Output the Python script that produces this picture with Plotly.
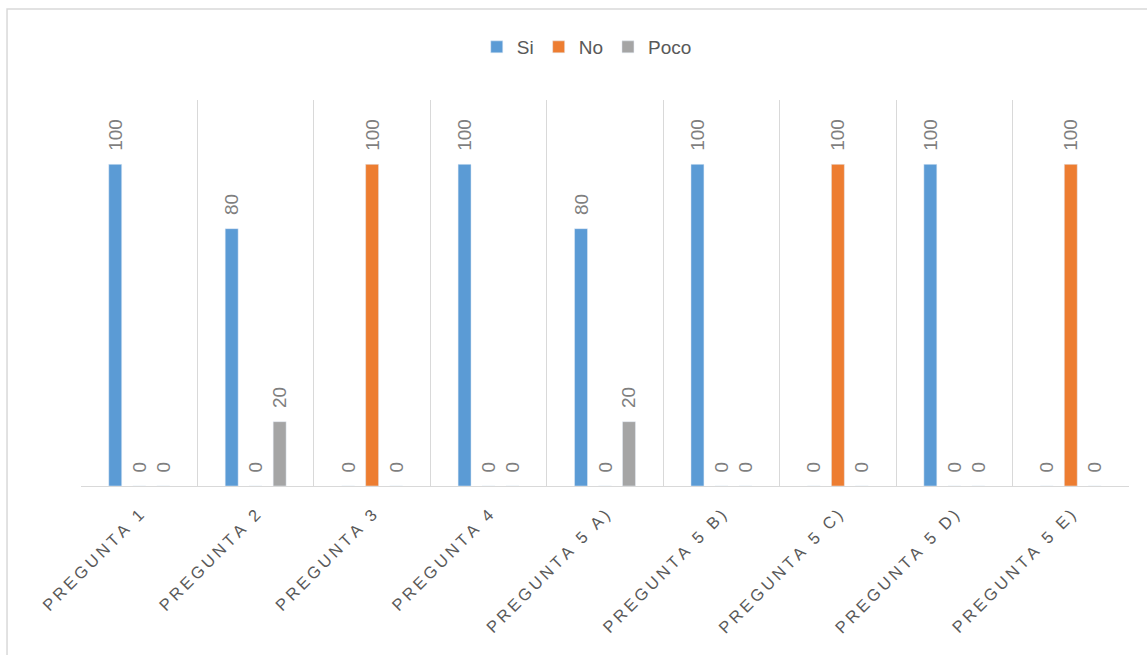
import plotly.graph_objects as go

categories = ["PREGUNTA 1", "PREGUNTA 2", "PREGUNTA 3", "PREGUNTA 4", "PREGUNTA 5 A)",
              "PREGUNTA 5 B)", "PREGUNTA 5 C)", "PREGUNTA 5 D)", "PREGUNTA 5 E)"]
si = [100, 80, 0, 100, 80, 100, 0, 100, 0]
no = [0, 0, 100, 0, 0, 0, 100, 0, 100]
poco = [0, 20, 0, 0, 20, 0, 0, 0, 0]

series = [("Si", si, "#5B9BD5"), ("No", no, "#ED7D31"), ("Poco", poco, "#A5A5A5")]

# letter-spaced tick labels (Excel style)
tick_text = ["\u2009".join(list(c)) for c in categories]

fig = go.Figure()
for name, vals, color in series:
    fig.add_trace(go.Bar(
        x=categories, y=vals, name=name, marker_color=color,
        texttemplate="\u00a0\u00a0%{y}", textposition="outside", textangle=-90,
        constraintext="none",
        textfont=dict(size=19, color="#7F7F7F", family="Liberation Sans"),
        cliponaxis=False,
    ))

W, H = 1147, 655
L, R, T, B = 81, 17.5, 100, 169
pw = W - L - R
ph = H - T - B

def px_to_paper_x(px):
    return (px - L) / pw

def px_to_paper_y(py):
    return (H - B - py) / ph

fig.update_layout(
    width=W, height=H,
    margin=dict(l=L, r=R, t=T, b=B),
    paper_bgcolor="white", plot_bgcolor="white",
    barmode="group", bargap=0.382, bargroupgap=0.46,
    font=dict(family="Liberation Sans", color="#595959"),
    showlegend=True,
    legend=dict(orientation="h", x=px_to_paper_x(587), xanchor="center",
                y=px_to_paper_y(47), yanchor="middle",
                font=dict(size=19, color="#595959"), itemwidth=30, traceorder="normal"),
    xaxis=dict(type="category", tickson="boundaries", showgrid=True, gridcolor="#D9D9D9",
               gridwidth=1, showline=True, linecolor="#D9D9D9", linewidth=1,
               ticks="", ticklabelstandoff=12,
               tickangle=-45, tickvals=categories, ticktext=tick_text,
               tickfont=dict(size=16.5, color="#595959", family="Liberation Sans")),
    yaxis=dict(range=[0, 120], visible=False, showgrid=False, zeroline=False),
    shapes=[dict(type="rect", xref="paper", yref="paper",
                 x0=px_to_paper_x(7), x1=px_to_paper_x(1160),
                 y0=px_to_paper_y(700), y1=px_to_paper_y(9),
                 line=dict(color="#D9D9D9", width=1.5), fillcolor="rgba(0,0,0,0)",
                 layer="below")],
)

fig.write_html("out.html")
